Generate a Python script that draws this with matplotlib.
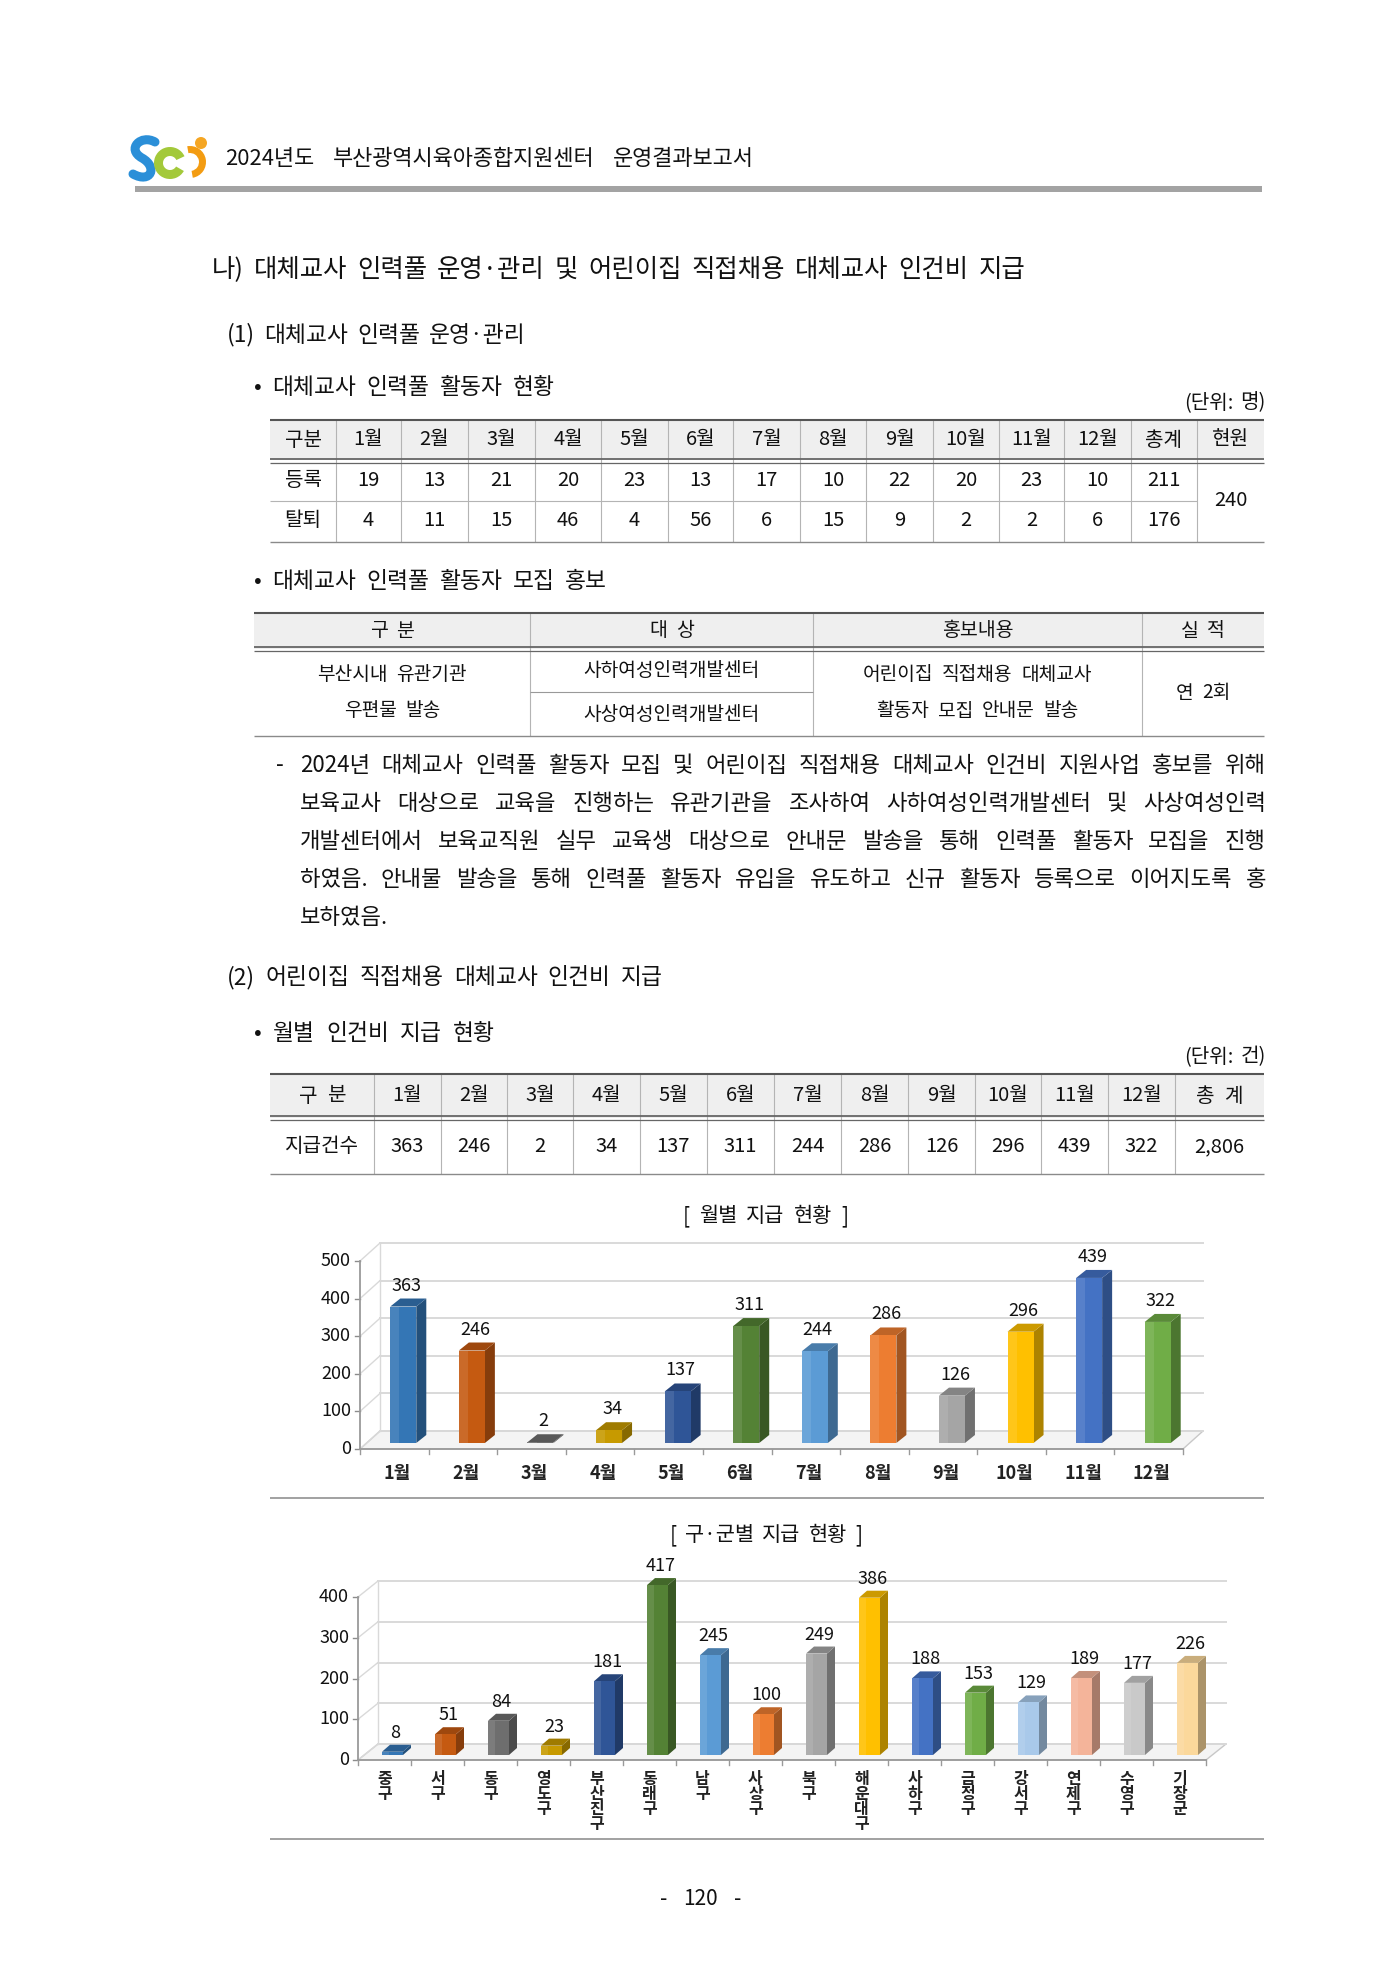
import numpy as np
import matplotlib
matplotlib.use("Agg")
import matplotlib.pyplot as plt
from matplotlib.patches import Rectangle, Polygon, Circle, Wedge, PathPatch
from matplotlib.path import Path
from matplotlib.colors import to_rgb

plt.rcParams['font.family'] = ['Noto Sans CJK KR', 'DejaVu Sans']

# ---- data ----
months = [f"{i}월" for i in range(1, 13)]
pool_reg = [19, 13, 21, 20, 23, 13, 17, 10, 22, 20, 23, 10]
pool_out = [4, 11, 15, 46, 4, 56, 6, 15, 9, 2, 2, 6]
pool_reg_total = 211
pool_out_total = 176
pool_current = 240

promo_header = ["구 분", "대 상", "홍보내용", "실 적"]
promo_kind = ["부산시내 유관기관", "우편물 발송"]
promo_target = ["사하여성인력개발센터", "사상여성인력개발센터"]
promo_content = ["어린이집 직접채용 대체교사", "활동자 모집 안내문 발송"]
promo_result = "연 2회"

pay_month = [363, 246, 2, 34, 137, 311, 244, 286, 126, 296, 439, 322]
pay_total = "2,806"

districts = ["중구", "서구", "동구", "영도구", "부산진구", "동래구", "남구", "사상구",
             "북구", "해운대구", "사하구", "금정구", "강서구", "연제구", "수영구", "기장군"]
pay_district = [8, 51, 84, 23, 181, 417, 245, 100, 249, 386, 188, 153, 129, 189, 177, 226]

month_colors = ["#3476b5", "#c55a11", "#6e6e6e", "#c79a00", "#2f5597", "#548235",
                "#5b9bd5", "#ed7d31", "#a5a5a5", "#ffc000", "#4472c4", "#70ad47"]
district_colors = month_colors + ["#a9c9ea", "#f4b49a", "#c9c9c9", "#fbd89b"]

paragraph = [
    "2024년 대체교사 인력풀 활동자 모집 및 어린이집 직접채용 대체교사 인건비 지원사업 홍보를 위해",
    "보육교사 대상으로 교육을 진행하는 유관기관을 조사하여 사하여성인력개발센터 및 사상여성인력",
    "개발센터에서 보육교직원 실무 교육생 대상으로 안내문 발송을 통해 인력풀 활동자 모집을 진행",
    "하였음. 안내물 발송을 통해 인력풀 활동자 유입을 유도하고 신규 활동자 등록으로 이어지도록 홍",
    "보하였음.",
]

W, H = 1400, 1980
fig = plt.figure(figsize=(W / 100, H / 100), dpi=100)
ax = fig.add_axes([0, 0, 1, 1])
ax.set_xlim(0, W)
ax.set_ylim(H, 0)
ax.axis('off')
renderer = fig.canvas.get_renderer()

TXT = "#111111"


def text(x, y, s, size, ha='left', va='center', **kw):
    return ax.text(x, y, s, fontsize=size, ha=ha, va=va, color=TXT, **kw)


def justify(line, x0, x1, y, size, last=False):
    # spread the words of one line between x0 and x1
    words = line.split(" ")
    items = [text(0, y, w, size) for w in words]
    widths = [t.get_window_extent(renderer).width for t in items]
    if last or len(words) == 1:
        gap = size * 100 / 72 * 0.3
    else:
        gap = (x1 - x0 - sum(widths)) / (len(words) - 1)
    x = x0
    for t, w in zip(items, widths):
        t.set_x(x)
        x += w + gap


def spaced(x, y, s, size, ha='center', gap_em=0.45):
    # wider word spacing than the CJK font's own space
    words = s.split(" ")
    items = [text(0, y, w, size) for w in words]
    widths = [t.get_window_extent(renderer).width for t in items]
    gap = size * 100 / 72 * gap_em
    total = sum(widths) + gap * (len(words) - 1)
    start = {'left': x, 'center': x - total / 2, 'right': x - total}[ha]
    for t, w in zip(items, widths):
        t.set_x(start)
        start += w + gap


def hline(x0, x1, y, lw=0.8, c="#a0a0a0"):
    ax.plot([x0, x1], [y, y], color=c, lw=lw, solid_capstyle='butt')


def vline(x, y0, y1, lw=0.8, c="#b4b4b4"):
    ax.plot([x, x], [y0, y1], color=c, lw=lw, solid_capstyle='butt')


# ---- header / logo ----
s_path = Path([(155, 142), (141, 134), (126, 149), (142, 158),
               (158, 167), (151, 184), (133, 174)],
              [Path.MOVETO, Path.CURVE4, Path.CURVE4, Path.CURVE4,
               Path.CURVE4, Path.CURVE4, Path.CURVE4])
ax.add_patch(PathPatch(s_path, fc='none', ec="#2b8fd8", lw=6.5, capstyle='round'))
ax.add_patch(Wedge((170, 163), 16, 30, 335, width=9, fc="#a3c93a", ec='none'))
ax.add_patch(Circle((201, 143), 6, fc="#f5a623", ec='none'))
ax.add_patch(Wedge((190, 162), 16, -100, 80, width=7, fc="#f39c12", ec='none'))
justify("2024년도 부산광역시육아종합지원센터 운영결과보고서", 225, 754, 159, 15.8)
ax.add_patch(Rectangle((135, 186), 1127, 6, fc="#a3a3a3", ec='none'))

# ---- headings ----
justify("나) 대체교사 인력풀 운영·관리 및 어린이집 직접채용 대체교사 인건비 지급",
        212, 1025, 270, 18.3)
justify("(1) 대체교사 인력풀 운영·관리", 227, 526, 335, 16.4)
justify("• 대체교사 인력풀 활동자 현황", 254, 555, 388, 16.4)
spaced(1266, 403, "(단위: 명)", 14.5, ha='right', gap_em=0.35)

# ---- table 1 ----
t1_cols = [270, 336, 401, 468, 535, 601, 668, 733, 800, 866, 933, 999, 1064, 1131, 1197, 1264]
ax.add_patch(Rectangle((270, 420), 994, 40, fc="#efefef", ec='none'))
for x in t1_cols[1:-1]:
    vline(x, 420, 542)
hline(270, 1264, 420, lw=1.5, c="#555555")
hline(270, 1264, 458.5, lw=1.3, c="#666666")
hline(270, 1264, 462.5, lw=0.9, c="#666666")
hline(270, 1197, 501, lw=0.8, c="#b4b4b4")
hline(270, 1264, 542, lw=1.0, c="#8a8a8a")
t1_head = ["구분"] + months + ["총계", "현원"]
t1_r1 = ["등록"] + [str(v) for v in pool_reg] + [str(pool_reg_total)]
t1_r2 = ["탈퇴"] + [str(v) for v in pool_out] + [str(pool_out_total)]
for i, s in enumerate(t1_head):
    text((t1_cols[i] + t1_cols[i + 1]) / 2, 440, s, 14.5, ha='center')
for i, s in enumerate(t1_r1):
    text((t1_cols[i] + t1_cols[i + 1]) / 2, 481, s, 14.5, ha='center')
for i, s in enumerate(t1_r2):
    text((t1_cols[i] + t1_cols[i + 1]) / 2, 521, s, 14.5, ha='center')
text((t1_cols[-2] + t1_cols[-1]) / 2, 501, str(pool_current), 14.5, ha='center')

# ---- table 2 ----
justify("• 대체교사 인력풀 활동자 모집 홍보", 254, 607, 582, 16.4)
t2_cols = [254, 530, 813, 1142, 1264]
ax.add_patch(Rectangle((254, 613), 1010, 36, fc="#efefef", ec='none'))
for x in t2_cols[1:-1]:
    vline(x, 613, 736)
hline(254, 1264, 613, lw=1.5, c="#555555")
hline(254, 1264, 647, lw=1.3, c="#666666")
hline(254, 1264, 651, lw=0.9, c="#666666")
hline(530, 813, 692, lw=0.8, c="#999999")
hline(254, 1264, 736, lw=1.0, c="#8a8a8a")
for i, s in enumerate(promo_header):
    spaced((t2_cols[i] + t2_cols[i + 1]) / 2, 631, s, 14)
for j, y in enumerate([675, 711]):
    spaced((t2_cols[0] + t2_cols[1]) / 2, y, promo_kind[j], 13.8)
    spaced((t2_cols[2] + t2_cols[3]) / 2, y, promo_content[j], 13.8)
for j, y in enumerate([670, 714]):
    spaced((t2_cols[1] + t2_cols[2]) / 2, y, promo_target[j], 13.8)
spaced((t2_cols[3] + t2_cols[4]) / 2, 693, promo_result, 13.8)

# ---- paragraph (justified) ----
text(276, 766, "-", 16)
for k, line in enumerate(paragraph):
    justify(line, 300, 1266, 766 + 38 * k, 16, last=(k == len(paragraph) - 1))

# ---- section 2 ----
justify("(2) 어린이집 직접채용 대체교사 인건비 지급", 227, 663, 978, 16.4)
justify("• 월별 인건비 지급 현황", 254, 495, 1033, 16.4)
spaced(1266, 1057, "(단위: 건)", 14.5, ha='right', gap_em=0.35)

t3_cols = [270, 374, 441, 507, 573, 640, 707, 774, 841, 908, 975, 1041, 1108, 1175, 1264]
ax.add_patch(Rectangle((270, 1074), 994, 44, fc="#efefef", ec='none'))
for x in t3_cols[1:-1]:
    vline(x, 1074, 1174)
hline(270, 1264, 1074, lw=1.5, c="#555555")
hline(270, 1264, 1116, lw=1.3, c="#666666")
hline(270, 1264, 1120, lw=0.9, c="#666666")
hline(270, 1264, 1174, lw=1.0, c="#8a8a8a")
t3_head = ["구 분"] + months + ["총 계"]
t3_row = ["지급건수"] + [str(v) for v in pay_month] + [pay_total]
for i, s in enumerate(t3_head):
    spaced((t3_cols[i] + t3_cols[i + 1]) / 2, 1096, s, 14.5)
for i, s in enumerate(t3_row):
    text((t3_cols[i] + t3_cols[i + 1]) / 2, 1147, s, 14.5, ha='center')


# ---- 3D-look column charts ----
def shade(c, f):
    r, g, b = to_rgb(c)
    return (r * f, g * f, b * f)


def chart3d(x0, x1, ybase, ytop, ymax, step, values, labels, colors,
            floor_off, bar_off, bar_depth, bar_px, lab_gap, cat_y, stacked=False):
    n = len(values)
    cax = fig.add_axes([x0 / W, (H - ybase) / H, (x1 - x0) / W, (ybase - ytop) / H])
    cax.set_xlim(-0.5, n - 0.5)
    cax.set_ylim(0, ymax)
    cax.axis('off')
    ppx = (x1 - x0) / n
    ppy = (ybase - ytop) / ymax
    fx, fy = floor_off[0] / ppx, floor_off[1] / ppy
    ox, oy = bar_off[0] / ppx, bar_off[1] / ppy
    dx, dy = bar_depth[0] / ppx, bar_depth[1] / ppy
    bw = bar_px / ppx
    grid_c = "#d9d9d9"
    left, right = -0.5, n - 0.5
    # floor
    cax.add_patch(Polygon([(left, 0), (right, 0), (right + fx, fy), (left + fx, fy)],
                          closed=True, fc="#f4f4f4", ec="#c8c8c8", lw=1.0,
                          clip_on=False, zorder=1))
    # back wall + side wall grid
    for v in range(0, ymax + 1, step):
        cax.plot([left + fx, right + fx], [v + fy, v + fy], color=grid_c, lw=1.4,
                 clip_on=False, zorder=1)
        cax.plot([left, left + fx], [v, v + fy], color=grid_c, lw=1.0,
                 clip_on=False, zorder=1)
        cax.plot([left - 5 / ppx, left], [v, v], color="#8c8c8c", lw=1.0,
                 clip_on=False, zorder=2)
        cax.text(left - 9 / ppx, v, str(v), ha='right', va='center', fontsize=13,
                 color=TXT)
    cax.plot([left + fx, left + fx], [fy, ymax + fy], color=grid_c, lw=1.0,
             clip_on=False, zorder=1)
    # axes lines
    cax.plot([left, left], [0, ymax], color="#9a9a9a", lw=1.3, clip_on=False, zorder=2)
    cax.plot([left, right], [0, 0], color="#9a9a9a", lw=1.3, clip_on=False, zorder=2)
    for i in range(n + 1):
        cax.plot([i - 0.5, i - 0.5], [0, -5 / ppy], color="#9a9a9a", lw=1.0,
                 clip_on=False, zorder=2)
    # bars
    for i, (v, c) in enumerate(zip(values, colors)):
        bl = i - bw / 2 + ox
        br = bl + bw
        b0 = oy
        top = v + oy
        cax.add_patch(Polygon([(br, b0), (br + dx, b0 + dy), (br + dx, top + dy), (br, top)],
                              closed=True, fc=shade(c, 0.68), ec='none',
                              clip_on=False, zorder=3))
        cax.add_patch(Polygon([(bl, top), (br, top), (br + dx, top + dy), (bl + dx, top + dy)],
                              closed=True, fc=shade(c, 0.8), ec='none',
                              clip_on=False, zorder=3))
        cax.add_patch(Rectangle((bl, b0), bw, v, fc=c, ec='none',
                                clip_on=False, zorder=3))
        cax.add_patch(Rectangle((bl, b0), bw * 0.35, v, fc=(1, 1, 1, 0.10), ec='none',
                                clip_on=False, zorder=3))
        cax.text(i + ox + 3 / ppx, top + lab_gap / ppy, str(v), ha='center', va='center',
                 fontsize=13, color=TXT, zorder=4)
    # category labels
    for i, s in enumerate(labels):
        if stacked:
            cax.text(i, -cat_y / ppy, "\n".join(s), ha='center', va='top', fontsize=11.5,
                     fontweight='bold', linespacing=0.92, color="#222222")
        else:
            cax.text(i + 3 / ppx, -cat_y / ppy, s, ha='center', va='center', fontsize=13,
                     fontweight='bold', color="#222222")
    return cax


justify("[ 월별 지급 현황 ]", 683, 848, 1216, 15)
chart3d(360, 1183, 1449, 1261, 500, 100, pay_month, months, month_colors,
        floor_off=(20, 18), bar_off=(9, 6), bar_depth=(10, 8), bar_px=26,
        lab_gap=21, cat_y=24)
hline(270, 1264, 1498, lw=1.3, c="#9a9a9a")

justify("[ 구·군별 지급 현황 ]", 670, 862, 1535, 15)
chart3d(358, 1206, 1760, 1597, 400, 100, pay_district, districts, district_colors,
        floor_off=(20, 16), bar_off=(8, 5), bar_depth=(8, 7), bar_px=21,
        lab_gap=19, cat_y=11, stacked=True)
hline(270, 1264, 1839, lw=1.3, c="#9a9a9a")

justify("- 120 -", 660, 741, 1899, 15)

fig.savefig("out.png", dpi=100, facecolor="white")
